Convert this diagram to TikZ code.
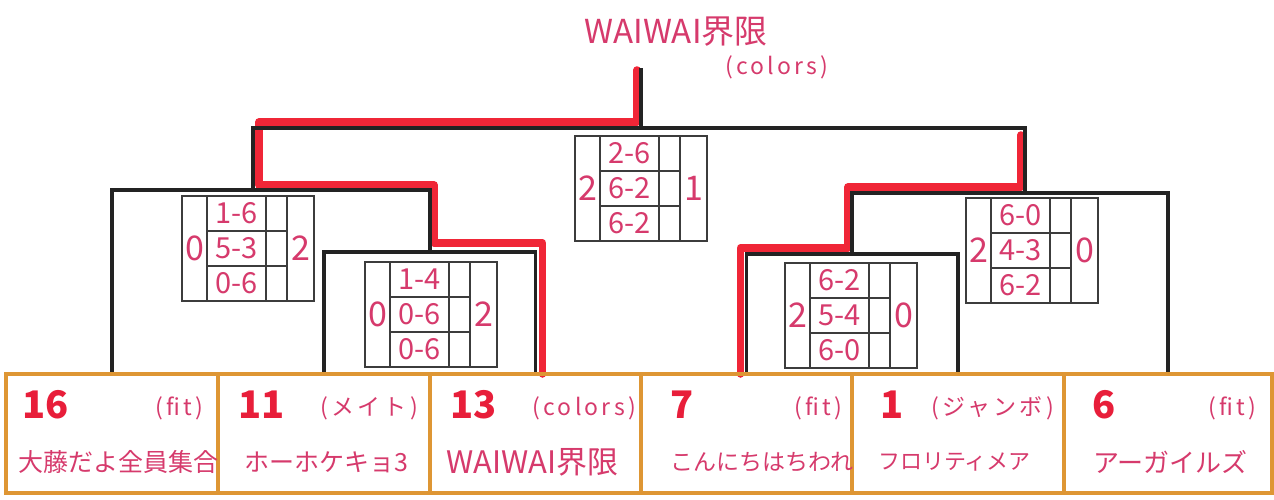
\documentclass[tikz,border=0pt]{standalone}
\usepackage{fontspec}
\setmainfont{Noto Sans CJK JP}
\newfontfamily\jp{Noto Sans CJK JP}
\newfontfamily\jpwide[LetterSpace=14]{Noto Sans CJK JP}
\usetikzlibrary{calc}
\definecolor{pinkink}{RGB}{214,58,108}
\definecolor{rednum}{RGB}{232,30,58}
\definecolor{redline}{RGB}{240,38,55}
\definecolor{orangeline}{RGB}{222,150,52}
\definecolor{inkblack}{RGB}{35,35,35}
\definecolor{gridgray}{RGB}{60,60,60}
\tikzset{
  teambox/.style={draw=orangeline, line width=3.5pt, minimum width=212pt, minimum height=119pt, inner sep=0pt, outer sep=0pt},
  seednum/.style={text=rednum, inner sep=0pt, font=\jp\bfseries\fontsize{38}{38}\selectfont},
  tag/.style={text=pinkink, inner sep=0pt, font=\jpwide\fontsize{23}{23}\selectfont},
  tname/.style={text=pinkink, inner sep=0pt, anchor=west},
  bline/.style={draw=inkblack, line width=3.5pt, line cap=rect, line join=miter},
  rline/.style={draw=redline, line width=7.5pt, line cap=round, line join=round},
  sbox/.style={draw=gridgray, line width=1.2pt, minimum width=132pt, minimum height=105pt, inner sep=0pt, outer sep=0pt},
  sgrid/.style={draw=gridgray, line width=1.2pt},
  sbig/.style={text=pinkink, inner sep=0pt, font=\jp\fontsize{34}{34}\selectfont},
  sscore/.style={text=pinkink, inner sep=0pt, font=\jp\fontsize{29}{29}\selectfont},
  titletext/.style={text=pinkink, inner sep=0pt}
}
\newcommand\ScoreBox[8]{%
  \begin{scope}[shift={(#2,#3)}]
    \node[sbox] (#1) at (66,52.5) {};
    \draw[sgrid] (25,0) -- (25,105) (84,0) -- (84,105) (105,0) -- (105,105)
      (25,35) -- (105,35) (25,70) -- (105,70);
    \node[sbig] (#1-l) at (12.5,52.5) {#4};
    \node[sscore] (#1-a) at (54.5,17.5) {#5};
    \node[sscore] (#1-b) at (54.5,52.5) {#6};
    \node[sscore] (#1-c) at (54.5,87.5) {#7};
    \node[sbig] (#1-r) at (118.5,52.5) {#8};
  \end{scope}}
\begin{document}
\begin{tikzpicture}[x=1pt,y=-1pt]
\useasboundingbox[fill=white] (0,0) rectangle (1274,500);

% title
\node[titletext, font=\jp\fontsize{33}{33}\selectfont] (title) at (676,32) {WAIWAI界限};
\node[titletext, font=\jpwide\fontsize{23}{23}\selectfont] (titletag) at (777,67) {(colors)};

% team boxes
\node[teambox] (t16) at (112,433.5) {};
\node[teambox] (t11) at (324,433.5) {};
\node[teambox] (t13) at (535.5,433.5) {};
\node[teambox] (t7) at (746.5,433.5) {};
\node[teambox] (t1) at (958,433.5) {};
\node[teambox, minimum width=208pt] (t6) at (1168,433.5) {};

% bracket coordinates
\coordinate (mB) at (430,252);
\coordinate (mA) at (253,190);
\coordinate (mC) at (852,254);
\coordinate (mD) at (1025,193);
\coordinate (mF) at (641,128);
\coordinate (champ) at (641,70);

% red winner highlights
\draw[rline] ($(t13.north)+(7,0)$) |- ($(mB)+(4,-9)$) |- ($(mA)+(6,-5)$) |- ($(mF)+(-4,-6)$) -- ($(champ)+(-4,0)$);
\draw[rline] ($(t7.north)+(-6,0)$) |- ($(mC)+(-4,-6)$) |- ($(mD)+(-4,-6)$) -- ($(mD |- mF)+(-4,7)$);

% black bracket
\draw[bline] (t11.north) |- (mB) -| (t13.north);
\draw[bline] (t16.north) |- (mA) -| (mB);
\draw[bline] (t7.north) |- (mC) -| (t1.north);
\draw[bline] (mC) |- (mD) -| (t6.north);
\draw[bline] (mA) |- (mF) -| (mD);
\draw[bline] (mF) -- (champ);

% redraw team boxes on top
\foreach \t in {t16,t11,t13,t7,t1,t6} {\draw[draw=orangeline, line width=3.5pt] (\t.north west) rectangle (\t.south east);}

% team texts
\node[seednum, anchor=west] (t16-n) at (22,405) {16};
\node[tag, anchor=east] (t16-t) at (203,408) {(fit)};
\node[tname, font=\jp\fontsize{25}{25}\selectfont] (t16-name) at (18,462) {大藤だよ全員集合};

\node[seednum, anchor=west] (t11-n) at (238,405) {11};
\node[tag, anchor=east] (t11-t) at (418,408) {(メイト)};
\node[tname, font=\jp\fontsize{25}{25}\selectfont] (t11-name) at (244,462) {ホーホケキョ3};

\node[seednum, anchor=west] (t13-n) at (450,405) {13};
\node[tag, anchor=east] (t13-t) at (636,408) {(colors)};
\node[tname, font=\jp\fontsize{31}{31}\selectfont] (t13-name) at (446,462) {WAIWAI界限};

\node[seednum, anchor=west] (t7-n) at (670,405) {7};
\node[tag, anchor=east] (t7-t) at (842,408) {(fit)};
\node[tname, font=\jp\fontsize{23}{23}\selectfont] (t7-name) at (670,462) {こんにちはちわれ};

\node[seednum, anchor=west] (t1-n) at (880,405) {1};
\node[tag, anchor=east] (t1-t) at (1054,408) {(ジャンボ)};
\node[tname, font=\jp\fontsize{22}{22}\selectfont] (t1-name) at (878,462) {フロリティメア};

\node[seednum, anchor=west] (t6-n) at (1092,405) {6};
\node[tag, anchor=east] (t6-t) at (1256,408) {(fit)};
\node[tname, font=\jp\fontsize{26}{26}\selectfont] (t6-name) at (1093,462) {アーガイルズ};

% score boxes
\ScoreBox{sA}{182}{196}{0}{1-6}{5-3}{0-6}{2}
\ScoreBox{sB}{365}{262}{0}{1-4}{0-6}{0-6}{2}
\ScoreBox{sF}{575}{136}{2}{2-6}{6-2}{6-2}{1}
\ScoreBox{sC}{785}{263}{2}{6-2}{5-4}{6-0}{0}
\ScoreBox{sD}{966}{198}{2}{6-0}{4-3}{6-2}{0}
\end{tikzpicture}
\end{document}
